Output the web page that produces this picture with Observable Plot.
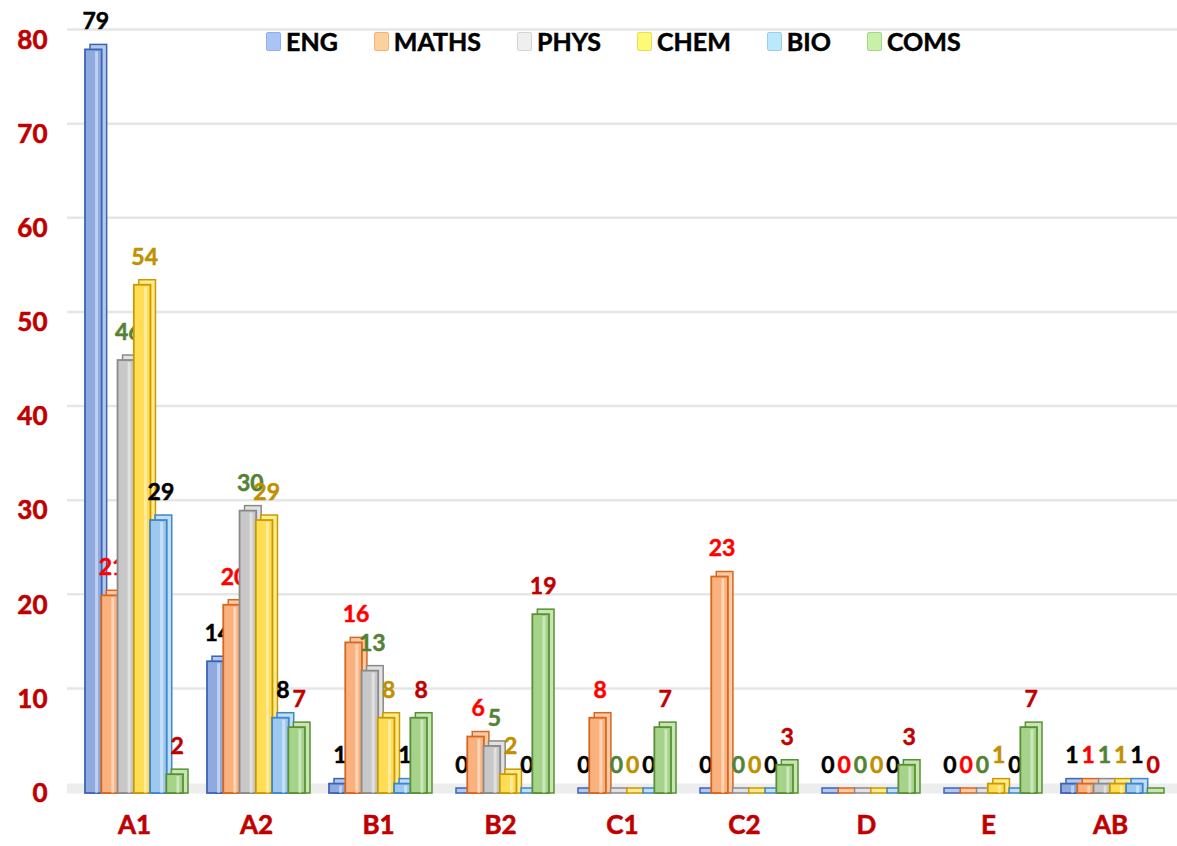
<!DOCTYPE html>
<html><head><meta charset="utf-8">
<script src="https://cdn.jsdelivr.net/npm/d3@7"></script>
<script src="https://cdn.jsdelivr.net/npm/@observablehq/plot@0.6"></script>
<style>
body{margin:0;background:#fff;font-family:Lato,"Open Sans",sans-serif;}
#wrap{position:relative;width:1177px;height:846px;overflow:hidden;}
#legend{position:absolute;top:26px;left:266px;display:flex;}
.item{display:flex;align-items:center;font-weight:bold;font-size:25px;color:#000;margin-right:36px;-webkit-text-stroke:0.5px #000;}
.sw{width:15px;height:19px;border:1.5px solid;margin-right:5px;box-sizing:border-box;border-radius:2px;}
svg g[aria-label$="tick label"] text{stroke:#c00000;stroke-width:0.6px;}
</style></head><body><div id="wrap"><div id="legend"></div></div>
<script>
const categories = ["A1","A2","B1","B2","C1","C2","D","E","AB"];
const series = ["ENG","MATHS","PHYS","CHEM","BIO","COMS"];
const ENG   = [79,14,1,0,0,0,0,0,1];
const MATHS = [21,20,16,6,8,23,0,0,1];
const PHYS  = [46,30,13,5,0,0,0,0,1];
const CHEM  = [54,29,8,2,0,0,0,1,1];
const BIO   = [29,8,1,0,0,0,0,0,1];
const COMS  = [2,7,8,19,7,3,3,7,0];
const yTicks = [0,10,20,30,40,50,60,70,80];

const values = [ENG, MATHS, PHYS, CHEM, BIO, COMS];
const frontFill = ["#8eaadf","#f9b17e","#c8c8c8","#ffdd55","#9dc8ef","#a6d38a"];
const sideFill  = ["#b4c8ee","#fccba6","#e2e2e2","#ffeb8c","#c2def6","#c6e6b2"];
const strokeCol = ["#3c64b4","#d8661e","#8a8a8a","#c99a00","#3d86c9","#5a8f36"];
const labelCol  = ["#000000","#ff0000","#548235","#bf9000","#000000","#c00000"];
const legendFill= ["#a9c4f5","#fdd19e","#efefef","#fefa78","#bde7fb","#c9f0a9"];
const legendStroke=["#8fb0ea","#f7b27a","#d4d4d4","#eadf4e","#98d0f0","#a8d58a"];

const W = 1177, H = 846, mL = 79, mR = 12, mT = 40, mB = 53;
const pIn = 0.2, pOut = 0.05;
const step = (W - mL - mR) / (categories.length - pIn + 2 * pOut);
const bw = step * (1 - pIn);
const w = bw / series.length;
const depth = 5;

const marks = [];
marks.push(Plot.ruleY(yTicks.slice(1), {stroke: "#e6e6e6", strokeWidth: 2.5, dy: -11, insetLeft: -12, insetRight: -12}));
marks.push(Plot.ruleY([0], {stroke: "#ededed", strokeWidth: 10, dy: -5, insetLeft: -12, insetRight: -12}));

series.forEach((s, i) => {
  const data = categories.map((c, j) => ({cat: c, value: values[i][j]}));
  const iL = i * w, iR = (series.length - 1 - i) * w;
  // depth face (top + side), extends up by depth and right by depth
  marks.push(Plot.barY(data, {x: "cat", y: "value", insetLeft: iL, insetRight: iR, insetTop: -depth, dx: depth,
    fill: sideFill[i], stroke: strokeCol[i], strokeWidth: 1.5}));
  // front face
  marks.push(Plot.barY(data.filter(d => d.value > 0), {x: "cat", y: "value", insetLeft: iL, insetRight: iR,
    fill: frontFill[i], stroke: strokeCol[i], strokeWidth: 1.8}));
  // highlight line
  marks.push(Plot.barY(data.filter(d => d.value > 0), {x: "cat", y: "value", insetLeft: iL + w * 0.62, insetRight: iR + w * 0.22, insetTop: 2,
    fill: "#ffffff", fillOpacity: 0.45}));
  marks.push(Plot.text(data, {x: "cat", y: "value", text: d => String(d.value), dx: (i - 2.5) * w + 2, dy: -28,
    fill: labelCol[i], stroke: labelCol[i], strokeWidth: 0.5, fontSize: 23, fontWeight: "bold", textAnchor: "middle", lineAnchor: "middle"}));
});

marks.push(Plot.axisY({ticks: yTicks, tickSize: 0, tickPadding: 32, fontSize: 26, fontWeight: "bold"}));
marks.push(Plot.axisX({tickSize: 0, tickPadding: 22, fontSize: 26, fontWeight: "bold"}));

const chart = Plot.plot({
  width: W, height: H,
  marginLeft: mL, marginRight: mR, marginTop: mT, marginBottom: mB,
  style: {color: "#c00000", fontFamily: "Lato, 'Open Sans', sans-serif", background: "#fff"},
  x: {domain: categories, paddingInner: pIn, paddingOuter: pOut, label: null},
  y: {domain: [0, 80], label: null},
  marks
});
const wrap = document.getElementById("wrap");
wrap.insertBefore(chart, wrap.firstChild);

const legend = document.getElementById("legend");
series.forEach((s, i) => {
  const it = document.createElement("div");
  it.className = "item";
  const sw = document.createElement("div");
  sw.className = "sw";
  sw.style.background = legendFill[i];
  sw.style.borderColor = legendStroke[i];
  it.appendChild(sw);
  it.appendChild(document.createTextNode(s));
  legend.appendChild(it);
});
</script></body></html>
